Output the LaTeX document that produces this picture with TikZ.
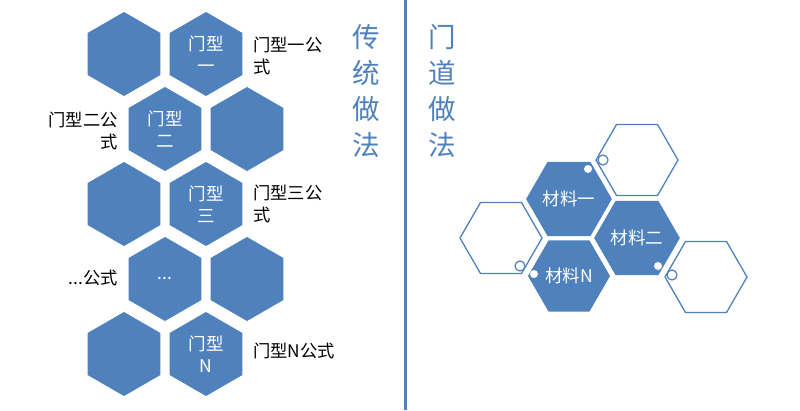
\documentclass[tikz,border=0pt]{standalone}
\usepackage{fontspec}
\setmainfont{Noto Sans CJK SC}
\usetikzlibrary{shapes.geometric}
\definecolor{hexblue}{RGB}{79,129,189}
\begin{document}
\begin{tikzpicture}[x=1pt,y=-1pt,
  lhex/.style={regular polygon, regular polygon sides=6, shape border rotate=30,
    minimum size=84pt, inner sep=0pt, outer sep=0pt, fill=hexblue, draw=none,
    text=white, font=\fontsize{17.5}{22}\selectfont, align=center},
  rhexfill/.style={regular polygon, regular polygon sides=6,
    minimum size=82pt, inner sep=0pt, outer sep=0pt, fill=hexblue, draw=none,
    text=white, font=\fontsize{17.5}{22}\selectfont},
  rhexline/.style={regular polygon, regular polygon sides=6,
    minimum size=82pt, inner sep=0pt, outer sep=0pt, draw=hexblue, line width=1.3pt},
  sidetext/.style={font=\fontsize{17.3}{22}\selectfont, text=black, inner sep=0pt},
  titletext/.style={font=\fontsize{27.5}{36}\selectfont, text=hexblue, align=center, inner sep=0pt},
  wdot/.style={circle, fill=white, draw=none, minimum size=8pt, inner sep=0pt},
  odot/.style={circle, fill=white, draw=hexblue, line width=1.2pt, minimum size=10pt, inner sep=0pt}
]
\useasboundingbox[fill=white] (0,0) rectangle (800,410);

% left column of hexagons
\node[lhex] (h11) at (124,54) {};
\node[lhex] (h12) at (206,54) {门型\\一};
\node[lhex] (h21) at (165,129) {门型\\二};
\node[lhex] (h22) at (247,129) {};
\node[lhex] (h31) at (124,204) {};
\node[lhex] (h32) at (206,204) {门型\\三};
\node[lhex] (h41) at (165,279) {...};
\node[lhex] (h42) at (247,279) {};
\node[lhex] (h51) at (124,354) {};
\node[lhex] (h52) at (206,354) {门型\\N};

% side labels
\node[sidetext, anchor=west, align=left] (s1) at (253,56) {门型一公\\式};
\node[sidetext, anchor=east, align=right] (s2) at (118,131) {门型二公\\式};
\node[sidetext, anchor=west, align=left] (s3) at (253,204) {门型三公\\式};
\node[sidetext, anchor=east] (s4) at (118,278) {...公式};
\node[sidetext, anchor=west] (s5) at (253,351) {门型N公式};

% titles
\node[titletext] (t1) at (366.5,91) {传\\统\\做\\法};
\node[titletext] (t2) at (442.5,91) {门\\道\\做\\法};

% divider
\coordinate (dtop) at (405,0);
\coordinate (dbot) at (405,410);
\draw[hexblue, line width=3pt] (dtop) -- (dbot);

% right cluster
\node[rhexline] (ot) at (637,160) {};
\node[rhexline] (ol) at (501,238) {};
\node[rhexline] (obr) at (706,277) {};
\node[rhexfill] (m1) at (569,199) {材料一};
\node[rhexfill] (m2) at (637,238) {材料二};
\node[rhexfill] (mn) at (569,276) {材料N};

% small circles
\node[wdot] (d1) at (588,169) {};
\node[wdot] (d2) at (658,266) {};
\node[wdot] (d3) at (534,274) {};
\node[odot] (c1) at (603,160) {};
\node[odot] (c2) at (520,266) {};
\node[odot] (c3) at (672,275) {};
\end{tikzpicture}
\end{document}
